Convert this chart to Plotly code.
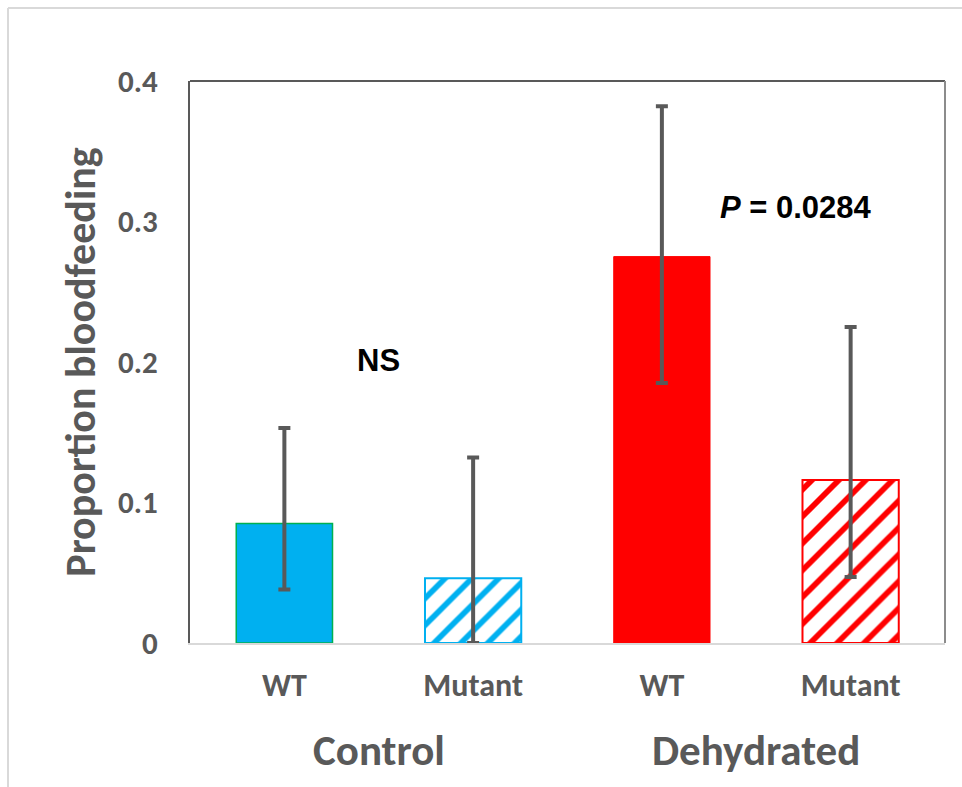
import plotly.graph_objects as go

# ---- data ----
positions = [0, 1, 2, 3]
genotype_labels = ["WT", "Mutant", "WT", "Mutant"]
group_labels = ["Control", "Dehydrated"]
proportion = [0.085, 0.046, 0.275, 0.116]
upper_bound = [0.153, 0.132, 0.382, 0.225]
lower_bound = [0.038, 0.0, 0.185, 0.047]
y_ticks = [0, 0.1, 0.2, 0.3, 0.4]
y_tick_text = ["0", "0.1", "0.2", "0.3", "0.4"]

BLUE = "#00B0F0"
RED = "#FF0000"
GREEN = "#00B050"
GRAY = "#595959"
FONT = "Carlito, Lato, sans-serif"

fill_colors = [BLUE, "white", RED, "white"]
pattern_colors = [BLUE, BLUE, RED, RED]
pattern_shapes = ["", "/", "", "/"]
outline_colors = [GREEN, BLUE, RED, RED]
outline_widths = [1.5, 2, 1, 2]

fig = go.Figure()
for i in range(len(positions)):
    fig.add_trace(go.Bar(
        x=[positions[i]],
        y=[proportion[i]],
        width=0.51,
        marker=dict(
            color=fill_colors[i],
            line=dict(color=outline_colors[i], width=outline_widths[i]),
            pattern=dict(shape=pattern_shapes[i], fgcolor=pattern_colors[i],
                         bgcolor=fill_colors[i], size=19, solidity=0.3,
                         fgopacity=1, fillmode="replace"),
        ),
        error_y=dict(type="data", symmetric=False,
                     array=[upper_bound[i] - proportion[i]],
                     arrayminus=[proportion[i] - lower_bound[i]],
                     color=GRAY, thickness=4, width=6),
        showlegend=False,
    ))

W, H = 962, 787
L, R, T, B = 190, 17, 81, 144

fig.update_layout(
    width=W, height=H, autosize=False,
    barmode="overlay",
    margin=dict(l=L, r=R, t=T, b=B),
    plot_bgcolor="white", paper_bgcolor="white",
    font=dict(family=FONT, color=GRAY),
    xaxis=dict(
        range=[-0.5, 3.5], tickvals=positions, ticktext=genotype_labels,
        showgrid=False, zeroline=False, showline=True, linecolor="#D9D9D9", linewidth=2,
        ticks="", ticklabelstandoff=13,
        tickfont=dict(family=FONT, size=32, color=GRAY, weight="bold"),
        fixedrange=True,
    ),
    yaxis=dict(
        range=[0, 0.4], tickvals=y_ticks, ticktext=y_tick_text,
        showgrid=False, zeroline=False, showline=True, linecolor=GRAY, linewidth=2,
        ticks="", ticklabelstandoff=24,
        tickfont=dict(family=FONT, size=31, color=GRAY, weight="bold"),
        title=dict(text="Proportion bloodfeeding", standoff=9,
                   font=dict(family=FONT, size=42, color=GRAY, weight="bold")),
        fixedrange=True,
    ),
)

# plot-area top and right border lines
fig.add_shape(type="line", xref="paper", yref="paper", x0=0, x1=1, y0=1, y1=1,
              line=dict(color=GRAY, width=2))
fig.add_shape(type="line", xref="paper", yref="paper", x0=1, x1=1, y0=0, y1=1,
              line=dict(color="#8C8C8C", width=2))

# outer chart frame (top and left visible)
pw, ph = W - L - R, H - T - B
def px_x(px):
    return (px - L) / pw
def px_y(py):
    return (H - B - py) / ph
fig.add_shape(type="line", xref="paper", yref="paper",
              x0=px_x(8), x1=px_x(962), y0=px_y(8), y1=px_y(8),
              line=dict(color="#D9D9D9", width=2))
fig.add_shape(type="line", xref="paper", yref="paper",
              x0=px_x(8), x1=px_x(8), y0=px_y(8), y1=px_y(787),
              line=dict(color="#D9D9D9", width=2))

# group labels
for gx, gl in zip([0.5, 2.5], group_labels):
    fig.add_annotation(x=gx, xref="x", y=px_y(750), yref="paper", text=gl,
                       showarrow=False, yanchor="middle", xanchor="center",
                       font=dict(family=FONT, size=43, color=GRAY, weight="bold"))

# significance annotations
fig.add_annotation(x=0.5, y=0.201, xref="x", yref="y", text="<b>NS</b>", showarrow=False,
                   font=dict(family="Liberation Sans, Arial, sans-serif", size=31, color="black"))
fig.add_annotation(x=2.713, y=0.310, xref="x", yref="y", text="<b><i>P</i> = 0.0284</b>",
                   showarrow=False,
                   font=dict(family="Liberation Sans, Arial, sans-serif", size=31, color="black"))

fig.write_html("out.html", config={"displayModeBar": False},
               post_script="document.body.style.margin='0';")
